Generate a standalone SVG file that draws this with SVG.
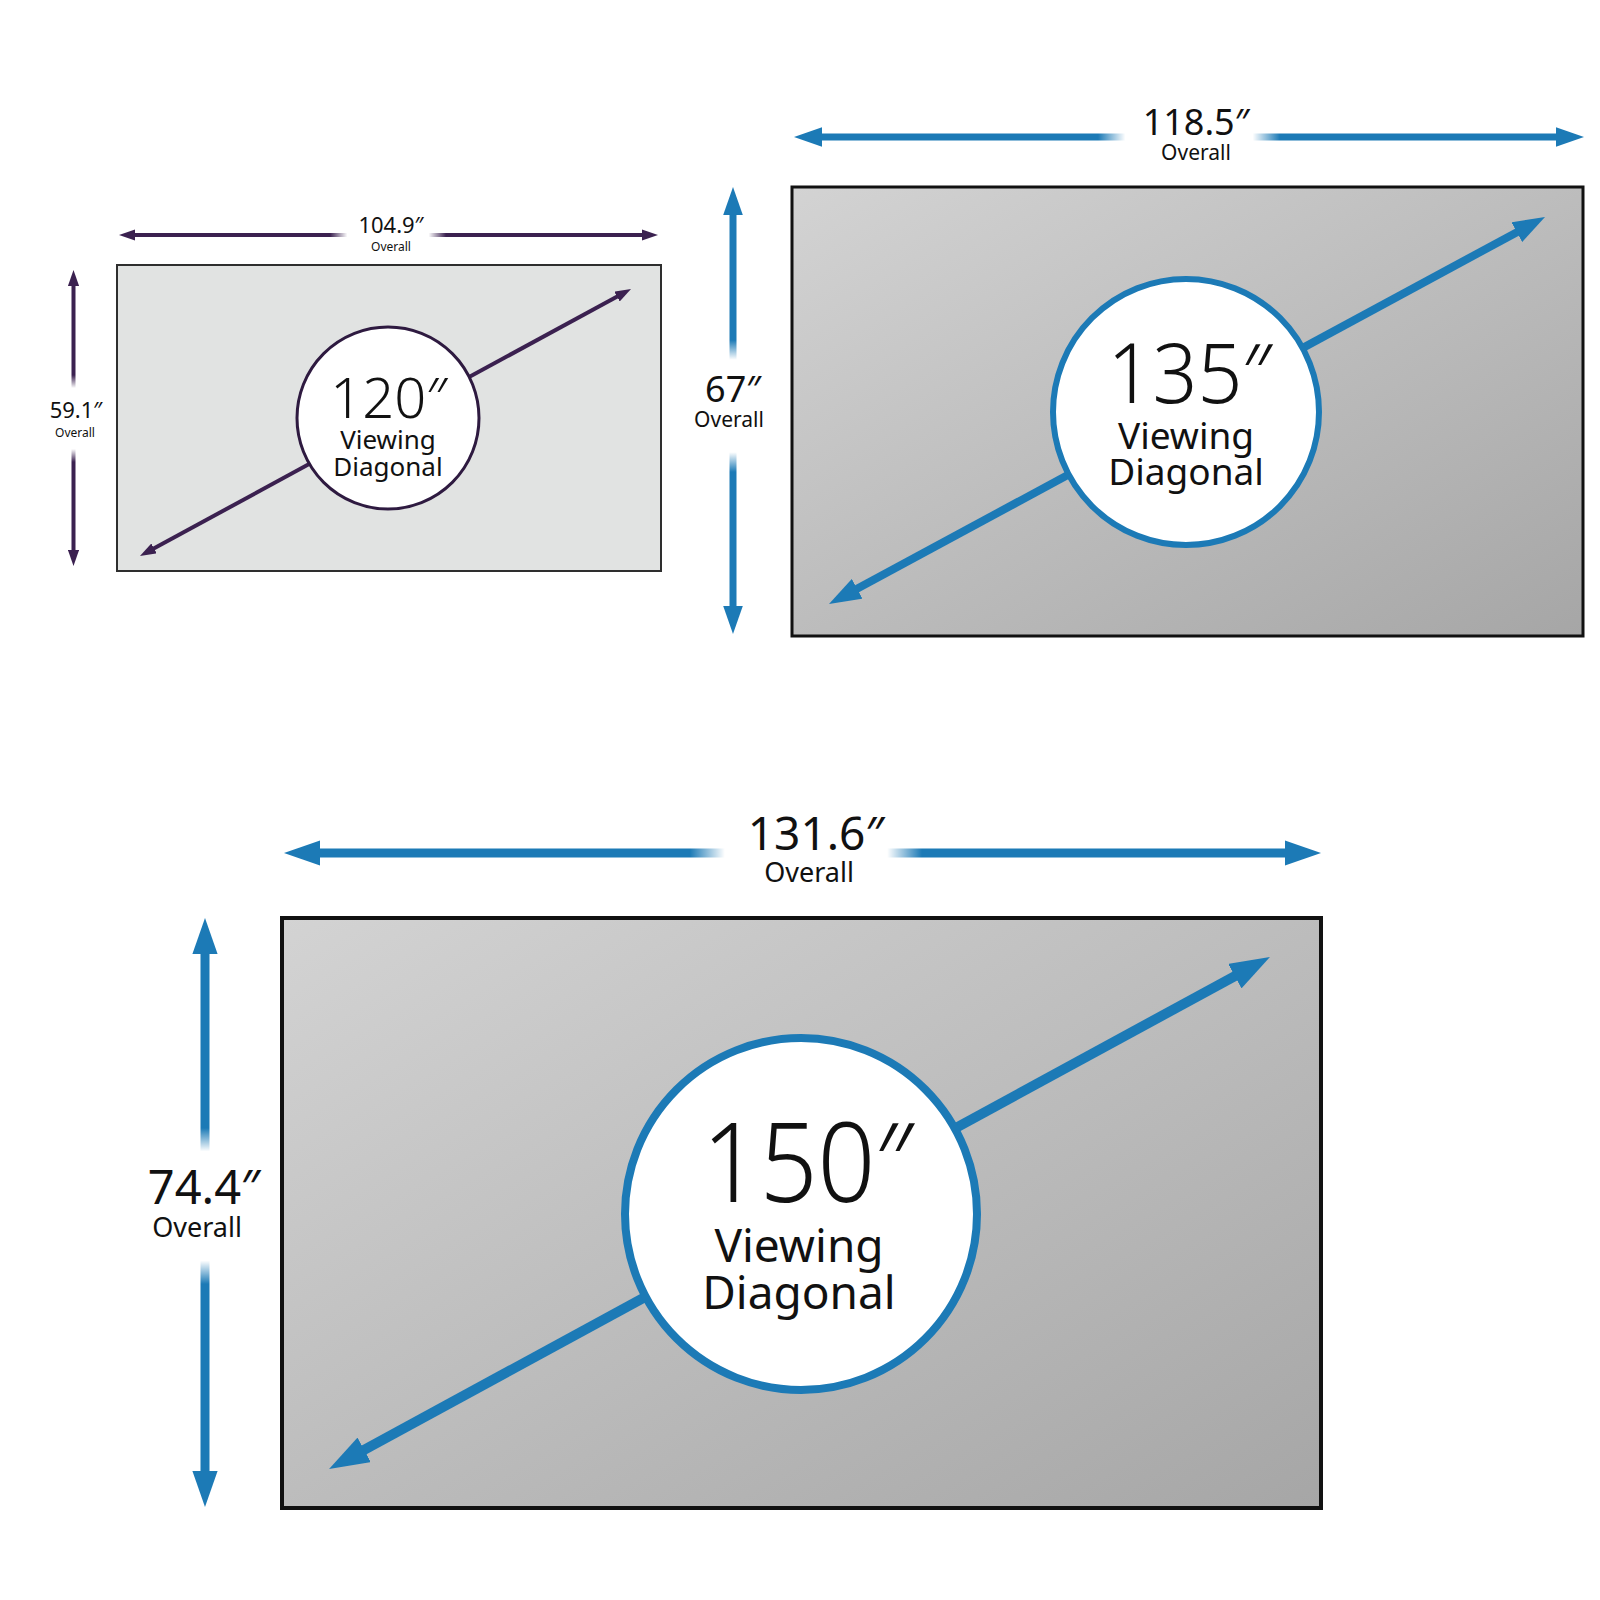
<svg xmlns="http://www.w3.org/2000/svg" width="1600" height="1600" viewBox="0 0 1600 1600">
<style>
  text { font-family: "Noto Sans", "Open Sans", "DejaVu Sans", sans-serif; fill: #111; text-anchor: middle; }
  .big { font-weight: 300; }
  .blue { stroke: #1c7ab6; fill: none; }
  .purple { stroke: #3b2150; fill: none; }
  .fadeH { fill: url(#fadeH); }
  .fadeV { fill: url(#fadeV); }
</style>
<defs>
  <linearGradient id="screen" x1="0" y1="0" x2="1" y2="1">
    <stop offset="0" stop-color="#d3d3d3"/>
    <stop offset="1" stop-color="#a6a6a6"/>
  </linearGradient>
  <linearGradient id="fadeH" x1="0" y1="0" x2="1" y2="0">
    <stop offset="0" stop-color="#fff" stop-opacity="0"/>
    <stop offset="0.15" stop-color="#fff" stop-opacity="1"/>
    <stop offset="0.85" stop-color="#fff" stop-opacity="1"/>
    <stop offset="1" stop-color="#fff" stop-opacity="0"/>
  </linearGradient>
  <linearGradient id="fadeV" x1="0" y1="0" x2="0" y2="1">
    <stop offset="0" stop-color="#fff" stop-opacity="0"/>
    <stop offset="0.15" stop-color="#fff" stop-opacity="1"/>
    <stop offset="0.85" stop-color="#fff" stop-opacity="1"/>
    <stop offset="1" stop-color="#fff" stop-opacity="0"/>
  </linearGradient>
  <marker id="headBlue" viewBox="0 0 4 2.8" refX="1" refY="1.4" markerWidth="4" markerHeight="2.8" markerUnits="strokeWidth" orient="auto-start-reverse">
    <path d="M0,0 L4,1.4 L0,2.8 z" fill="#1c7ab6"/>
  </marker>
  <marker id="headPurple" viewBox="0 0 4 2.8" refX="1" refY="1.4" markerWidth="4" markerHeight="2.8" markerUnits="strokeWidth" orient="auto-start-reverse">
    <path d="M0,0 L4,1.4 L0,2.8 z" fill="#3b2150"/>
  </marker>
</defs>
<rect width="1600" height="1600" fill="#fff"/>

<!-- Screens (nodes) -->
<g id="screen-120">
  <rect x="117" y="265" width="544" height="306" fill="#e1e3e2" stroke="#2e2e2e" stroke-width="2"/>
</g>
<g id="screen-135">
  <rect x="792" y="187" width="791" height="449" fill="url(#screen)" stroke="#111" stroke-width="3"/>
</g>
<g id="screen-150">
  <rect x="282" y="918" width="1039" height="590" fill="url(#screen)" stroke="#111" stroke-width="4"/>
</g>

<!-- Connectors: dimension arrows and diagonals -->
<g id="connectors">
  <!-- 120 -->
  <line class="purple" x1="131" y1="235" x2="646" y2="235" stroke-width="4" marker-start="url(#headPurple)" marker-end="url(#headPurple)"/>
  <line class="purple" x1="73.5" y1="282" x2="73.5" y2="554" stroke-width="4" marker-start="url(#headPurple)" marker-end="url(#headPurple)"/>
  <line class="purple" x1="150.5" y1="550.3" x2="620.5" y2="294.7" stroke-width="4" marker-start="url(#headPurple)" marker-end="url(#headPurple)"/>
  <!-- 135 -->
  <line class="blue" x1="815" y1="137" x2="1563" y2="137" stroke-width="7" marker-start="url(#headBlue)" marker-end="url(#headBlue)"/>
  <line class="blue" x1="733" y1="208" x2="733" y2="613" stroke-width="7" marker-start="url(#headBlue)" marker-end="url(#headBlue)"/>
  <line class="blue" x1="850.1" y1="592.6" x2="1523.9" y2="228.4" stroke-width="8" marker-start="url(#headBlue)" marker-end="url(#headBlue)"/>
  <!-- 150 -->
  <line class="blue" x1="311" y1="853" x2="1294" y2="853" stroke-width="9" marker-start="url(#headBlue)" marker-end="url(#headBlue)"/>
  <line class="blue" x1="205" y1="945" x2="205" y2="1480" stroke-width="9" marker-start="url(#headBlue)" marker-end="url(#headBlue)"/>
  <line class="blue" x1="355.4" y1="1454.7" x2="1243.6" y2="971.3" stroke-width="10" marker-start="url(#headBlue)" marker-end="url(#headBlue)"/>
  <!-- fades behind labels -->
  <rect class="fadeH" x="330" y="225" width="116" height="20"/>
  <rect class="fadeV" x="63" y="375" width="21" height="87"/>
  <rect class="fadeH" x="1098" y="125" width="182" height="24"/>
  <rect class="fadeV" x="721" y="340" width="24" height="132"/>
  <rect class="fadeH" x="690" y="840" width="232" height="26"/>
  <rect class="fadeV" x="192" y="1128" width="26" height="156"/>
</g>

<!-- Labels and circles -->
<g id="label-120">
  <text x="391" y="233" font-size="22">104.9″</text>
  <text x="391" y="251" font-size="12">Overall</text>
  <text x="76" y="418" font-size="22">59.1″</text>
  <text x="75" y="437" font-size="12">Overall</text>
  <circle cx="388" cy="418" r="91" fill="#fff" stroke="#2e1a40" stroke-width="3"/>
  <text x="389" y="418" font-size="56" class="big">120″</text>
  <text x="388" y="449" font-size="26">Viewing</text>
  <text x="388" y="476" font-size="26">Diagonal</text>
</g>
<g id="label-135">
  <text x="1196" y="135" font-size="36">118.5″</text>
  <text x="1196" y="160" font-size="21">Overall</text>
  <text x="733" y="402" font-size="36">67″</text>
  <text x="729" y="427" font-size="21">Overall</text>
  <circle cx="1186" cy="412" r="133" fill="#fff" stroke="#1c7ab6" stroke-width="6"/>
  <text x="1190" y="403" font-size="82" class="big" textLength="165" lengthAdjust="spacingAndGlyphs">135″</text>
  <text x="1186" y="449" font-size="37">Viewing</text>
  <text x="1186" y="485" font-size="37">Diagonal</text>
</g>
<g id="label-150">
  <text x="816" y="850" font-size="46">131.6″</text>
  <text x="809" y="882" font-size="27">Overall</text>
  <text x="204" y="1204" font-size="47">74.4″</text>
  <text x="197" y="1237" font-size="27">Overall</text>
  <circle cx="801" cy="1214" r="176" fill="#fff" stroke="#1c7ab6" stroke-width="8"/>
  <text x="808" y="1202" font-size="110" class="big" textLength="212" lengthAdjust="spacingAndGlyphs">150″</text>
  <text x="799" y="1262" font-size="46">Viewing</text>
  <text x="799" y="1309" font-size="46">Diagonal</text>
</g>
</svg>
